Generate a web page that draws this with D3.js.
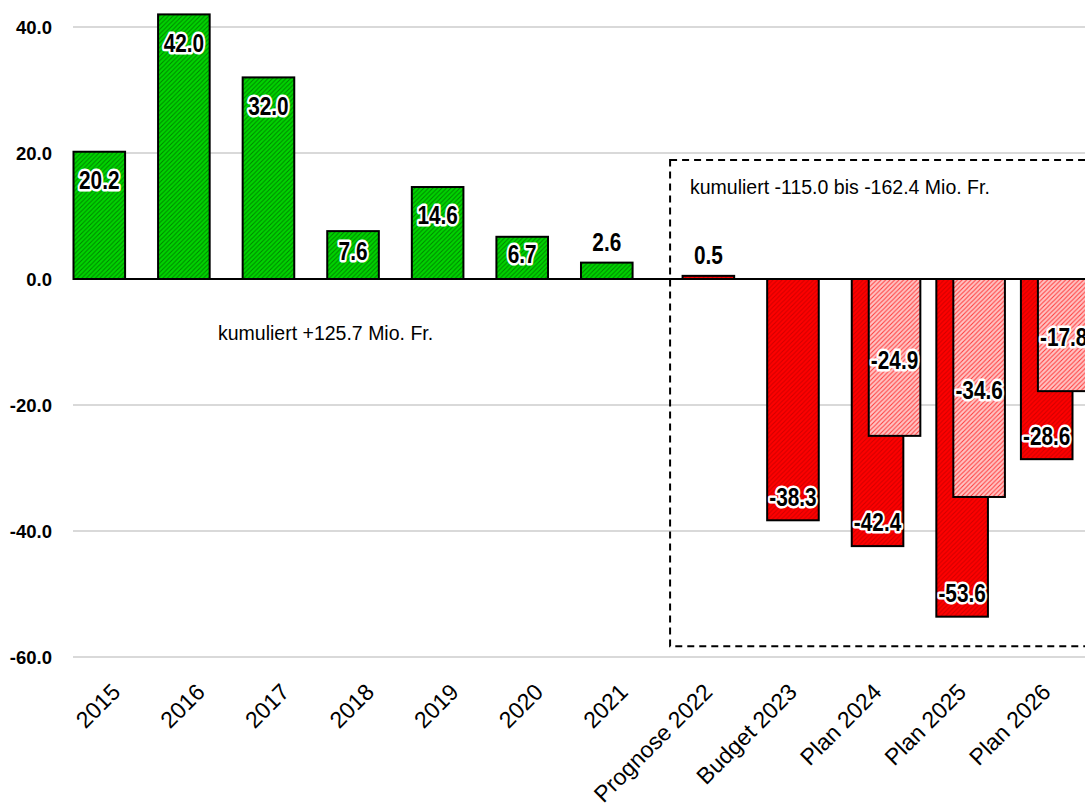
<!DOCTYPE html>
<html>
<head>
<meta charset="utf-8">
<script src="https://cdn.jsdelivr.net/npm/d3@7"></script>
<style>
  html, body { margin: 0; padding: 0; background: #ffffff; }
  svg { display: block; font-family: "Liberation Sans", Arial, sans-serif; }
</style>
</head>
<body>
<svg id="chart" width="1085" height="807"></svg>
<script>
// ---------- data ----------
const categories = ["2015", "2016", "2017", "2018", "2019", "2020", "2021",
  "Prognose 2022", "Budget 2023", "Plan 2024", "Plan 2025", "Plan 2026"];
const actualValues = [20.2, 42.0, 32.0, 7.6, 14.6, 6.7, 2.6, null, null, null, null, null];
const planValues = [null, null, null, null, null, null, null, 0.5, -38.3, -42.4, -53.6, -28.6];
const variantValues = [null, null, null, null, null, null, null, null, null, -24.9, -34.6, -17.8];
const yTicks = [-60, -40, -20, 0, 20, 40];
const noteHistory = "kumuliert +125.7 Mio. Fr.";
const noteForecast = "kumuliert -115.0 bis -162.4 Mio. Fr.";

// ---------- layout ----------
const W = 1085, H = 807;
const svg = d3.select("#chart");
const y = d3.scaleLinear().domain([-60, 40]).range([657, 27]);
const x = d3.scaleBand().domain(categories).range([74, 1089]).padding(0);
const seriesNames = ["actual", "plan", "variant"];
const seriesOffset = d3.scalePoint().domain(seriesNames).range([-17, 17]);
const barW = x.bandwidth() * 0.61;
const center = c => x(c) + x.bandwidth() / 2;
const fmt = v => v.toFixed(1);

// ---------- patterns ----------
const defs = svg.append("defs");
function hatch(id, base, stripe, sw) {
  const s = 4.5;
  const p = defs.append("pattern").attr("id", id)
    .attr("patternUnits", "userSpaceOnUse")
    .attr("width", s).attr("height", s);
  p.append("rect").attr("width", s).attr("height", s).attr("fill", base);
  p.append("path").attr("d", `M0,${s} L${s},0 M-1,1 L1,-1 M${s - 1},${s + 1} L${s + 1},${s - 1}`)
    .attr("stroke", stripe).attr("stroke-width", sw).attr("fill", "none");
}
hatch("hGreen", "#00d400", "#008200", 1.0);
hatch("hRed", "#ff0000", "#d00000", 1.1);
hatch("hLight", "#ffc4c4", "#ff3838", 1.0);

// ---------- grid ----------
svg.append("g").selectAll("line").data(yTicks.filter(t => t !== 0)).join("line")
  .attr("x1", 73).attr("x2", W)
  .attr("y1", d => y(d)).attr("y2", d => y(d))
  .attr("stroke", "#d9d9d9").attr("stroke-width", 2);

// y axis labels
const yAxis = d3.axisLeft(y).tickValues(yTicks).tickFormat(fmt).tickSize(0).tickPadding(0);
const yg = svg.append("g").attr("transform", "translate(52,0)").call(yAxis);
yg.select(".domain").remove();
yg.selectAll("text").attr("font-family", "'Liberation Sans', Arial, sans-serif")
  .attr("font-size", 18.5).attr("font-weight", "bold").attr("fill", "#000").attr("dy", "0.36em");

// x axis labels
const xAxis = d3.axisBottom(x).tickSize(0).tickPadding(0);
const xg = svg.append("g").call(xAxis);
xg.select(".domain").remove();
xg.selectAll(".tick").attr("transform", d => `translate(${center(d) - 6},${682})`);
xg.selectAll("text")
  .attr("font-family", "'Liberation Sans', Arial, sans-serif")
  .attr("font-size", 23).attr("fill", "#000")
  .attr("text-anchor", "end").attr("dy", "0.7em").attr("y", 0)
  .attr("transform", "rotate(-45)");

// ---------- bars ----------
const bars = [];
categories.forEach((c, i) => {
  if (actualValues[i] != null) bars.push({ c, v: actualValues[i], s: "actual", fill: "url(#hGreen)" });
  if (planValues[i] != null) bars.push({ c, v: planValues[i], s: "plan", fill: "url(#hRed)" });
  if (variantValues[i] != null) bars.push({ c, v: variantValues[i], s: "variant", fill: "url(#hLight)" });
});
const bx = d => center(d.c) + seriesOffset(d.s) - barW / 2;

svg.append("g").selectAll("rect").data(bars).join("rect")
  .attr("x", d => bx(d))
  .attr("width", barW)
  .attr("y", d => y(Math.max(0, d.v)))
  .attr("height", d => Math.abs(y(d.v) - y(0)))
  .attr("fill", d => d.fill)
  .attr("stroke", "#000").attr("stroke-width", 2);

// zero line
svg.append("line").attr("x1", 73).attr("x2", W).attr("y1", y(0)).attr("y2", y(0))
  .attr("stroke", "#000").attr("stroke-width", 2);

// ---------- dashed box ----------
const boxLeft = x("Prognose 2022") + 4;
svg.append("rect")
  .attr("x", boxLeft).attr("y", y(18.9))
  .attr("width", W + 20 - boxLeft).attr("height", y(-58.3) - y(18.9))
  .attr("fill", "none").attr("stroke", "#000").attr("stroke-width", 2)
  .attr("stroke-dasharray", "7,5");

// ---------- value labels ----------
function labelY(d) {
  const top = y(Math.max(0, d.v)), bot = y(Math.min(0, d.v));
  const h = bot - top;
  if (d.s === "variant") return (top + bot) / 2 + 2;
  if (d.v >= 0) {
    if (h < 30) return top - 21;
    return top + Math.min(28, h / 2 - 4);
  }
  return bot - 24;
}
svg.append("g").selectAll("text").data(bars).join("text")
  .attr("transform", d => `translate(${center(d.c) + seriesOffset(d.s)},${labelY(d)}) scale(0.8,1)`)
  .attr("dy", "0.36em")
  .attr("text-anchor", "middle")
  .attr("font-family", "'Liberation Sans', Arial, sans-serif")
  .attr("font-size", 26).attr("font-weight", "bold")
  .attr("fill", "#000")
  .attr("stroke", "#fff").attr("stroke-width", 5).attr("stroke-linejoin", "round")
  .attr("paint-order", "stroke")
  .text(d => fmt(d.v));

// ---------- notes ----------
svg.append("text").attr("x", 218).attr("y", 333).attr("dy", "0.36em")
  .attr("font-size", 19.5).attr("fill", "#000").text(noteHistory);
svg.append("text").attr("x", 690).attr("y", 187).attr("dy", "0.36em")
  .attr("font-size", 19.5).attr("fill", "#000").text(noteForecast);
</script>
</body>
</html>
